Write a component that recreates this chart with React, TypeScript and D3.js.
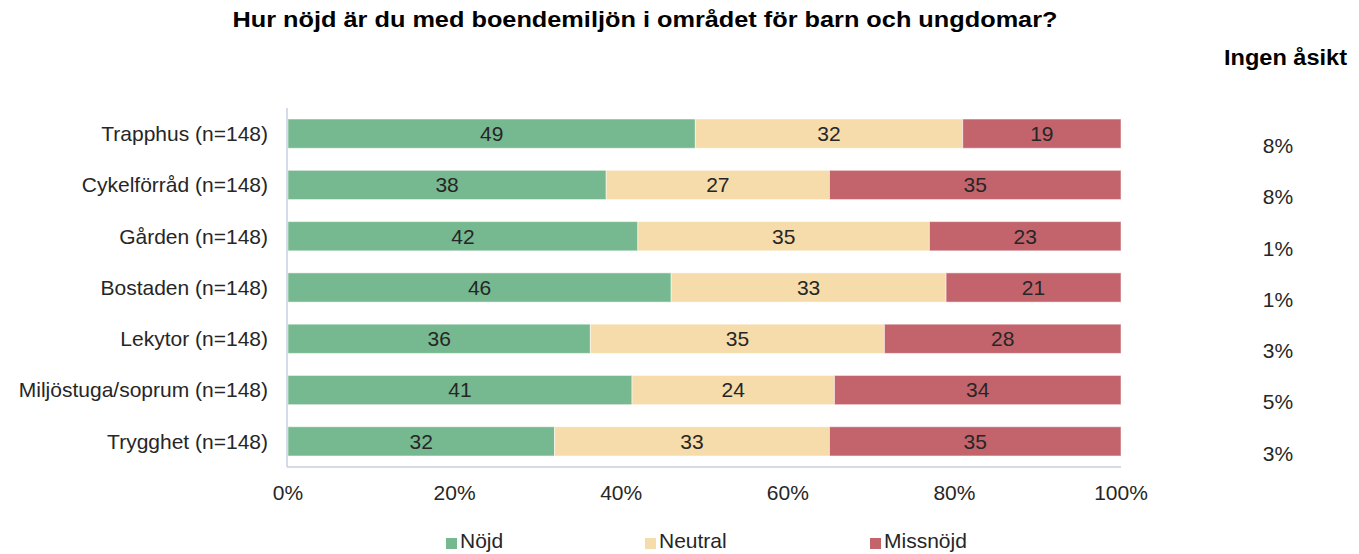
import React, { useRef, useEffect } from 'react'
import * as d3 from 'd3'

const categories = [
  'Trapphus (n=148)',
  'Cykelförråd (n=148)',
  'Gården (n=148)',
  'Bostaden (n=148)',
  'Lekytor (n=148)',
  'Miljöstuga/soprum (n=148)',
  'Trygghet (n=148)',
]
// estimated shares (labels shown rounded)
const nojd = [48.9, 38.2, 42.0, 46.0, 36.3, 41.3, 32.0]
const neutral = [32.1, 26.8, 35.0, 33.0, 35.3, 24.3, 33.0]
const missnojd = [19.0, 35.0, 23.0, 21.0, 28.4, 34.4, 35.0]
const ingenAsikt = ['8%', '8%', '1%', '1%', '3%', '5%', '3%']
const seriesNames = ['Nöjd', 'Neutral', 'Missnöjd']
const colors = ['#76b990', '#f5dcaa', '#c3646c']
const xTicks = [0, 20, 40, 60, 80, 100]

const width = 1359
const height = 554
const font = 'Liberation Sans, Arial, sans-serif'

export default function App() {
  const ref = useRef<SVGSVGElement>(null)

  useEffect(() => {
    const svg = d3.select(ref.current)
    svg.selectAll('*').remove()

    const margin = { top: 108, left: 287, right: 239, bottom: 87 }
    const innerW = width - margin.left - margin.right
    const innerH = height - margin.top - margin.bottom

    const x = d3.scaleLinear().domain([0, 100]).range([1, innerW + 1])
    const y = d3.scaleBand().domain(categories).range([0, innerH]).paddingInner(0.43).paddingOuter(0.215)

    const g = svg.append('g').attr('transform', `translate(${margin.left},${margin.top})`)

    const rows = categories.map((c, i) => ({ cat: c, vals: [nojd[i], neutral[i], missnojd[i]] }))
    const stack = d3.stack<any>().keys(['0', '1', '2']).value((d, k) => d.vals[+k])(rows)

    stack.forEach((layer, si) => {
      g.selectAll(null).data(layer).enter().append('rect')
        .attr('x', d => x(d[0]))
        .attr('y', d => y(d.data.cat)!)
        .attr('width', d => x(d[1]) - x(d[0]))
        .attr('height', y.bandwidth())
        .attr('fill', colors[si])
        .attr('stroke', '#fff')
        .attr('stroke-opacity', 0.5)
        .attr('stroke-width', 1)
      g.selectAll(null).data(layer).enter().append('text')
        .attr('x', d => (x(d[0]) + x(d[1])) / 2)
        .attr('y', d => y(d.data.cat)! + y.bandwidth() / 2)
        .attr('dy', '0.35em')
        .attr('text-anchor', 'middle')
        .attr('font-family', font)
        .attr('font-size', 21)
        .attr('fill', '#262626')
        .text(d => Math.round(d[1] - d[0]))
    })

    // axis lines
    g.append('line').attr('x1', 0).attr('x2', 0).attr('y1', 0).attr('y2', innerH)
      .attr('stroke', '#c5d0e0').attr('stroke-width', 1.5)
    g.append('line').attr('x1', 0).attr('x2', innerW + 1).attr('y1', innerH).attr('y2', innerH)
      .attr('stroke', '#c5d0e0').attr('stroke-width', 1.5)

    // category labels
    g.selectAll(null).data(categories).enter().append('text')
      .attr('x', -19)
      .attr('y', d => y(d)! + y.bandwidth() / 2)
      .attr('dy', '0.35em')
      .attr('text-anchor', 'end')
      .attr('font-family', font)
      .attr('font-size', 21)
      .attr('fill', '#262626')
      .text(d => d)

    // x tick labels
    g.selectAll(null).data(xTicks).enter().append('text')
      .attr('x', d => x(d))
      .attr('y', innerH + 26)
      .attr('dy', '0.35em')
      .attr('text-anchor', 'middle')
      .attr('font-family', font)
      .attr('font-size', 21)
      .attr('fill', '#262626')
      .text(d => d + '%')

    // Ingen åsikt values
    g.selectAll(null).data(categories).enter().append('text')
      .attr('x', 1278 - margin.left)
      .attr('y', d => y(d)! + y.bandwidth() / 2 + 12)
      .attr('dy', '0.35em')
      .attr('text-anchor', 'middle')
      .attr('font-family', font)
      .attr('font-size', 21)
      .attr('fill', '#262626')
      .text((d, i) => ingenAsikt[i])

    svg.append('text')
      .attr('x', 1347).attr('y', 57).attr('dy', '0.35em')
      .attr('text-anchor', 'end')
      .attr('font-family', font).attr('font-size', 22).attr('font-weight', 'bold')
      .attr('fill', '#000')
      .attr('textLength', 123).attr('lengthAdjust', 'spacingAndGlyphs')
      .text('Ingen åsikt')

    svg.append('text')
      .attr('x', 645).attr('y', 19).attr('dy', '0.35em')
      .attr('text-anchor', 'middle')
      .attr('font-family', font).attr('font-size', 22).attr('font-weight', 'bold')
      .attr('fill', '#000')
      .attr('textLength', 825).attr('lengthAdjust', 'spacingAndGlyphs')
      .text('Hur nöjd är du med boendemiljön i området för barn och ungdomar?')

    // legend
    const legendX = [446, 645, 870]
    seriesNames.forEach((n, i) => {
      svg.append('rect').attr('x', legendX[i]).attr('y', 538).attr('width', 11).attr('height', 11)
        .attr('fill', colors[i])
      svg.append('text').attr('x', legendX[i] + 14).attr('y', 541).attr('dy', '0.35em')
        .attr('font-family', font).attr('font-size', 21).attr('fill', '#262626')
        .text(n)
    })
  }, [])

  return (
    <svg ref={ref} width={width} height={height}
      style={{ position: 'absolute', left: 0, top: 0, background: '#fff' }} />
  )
}
